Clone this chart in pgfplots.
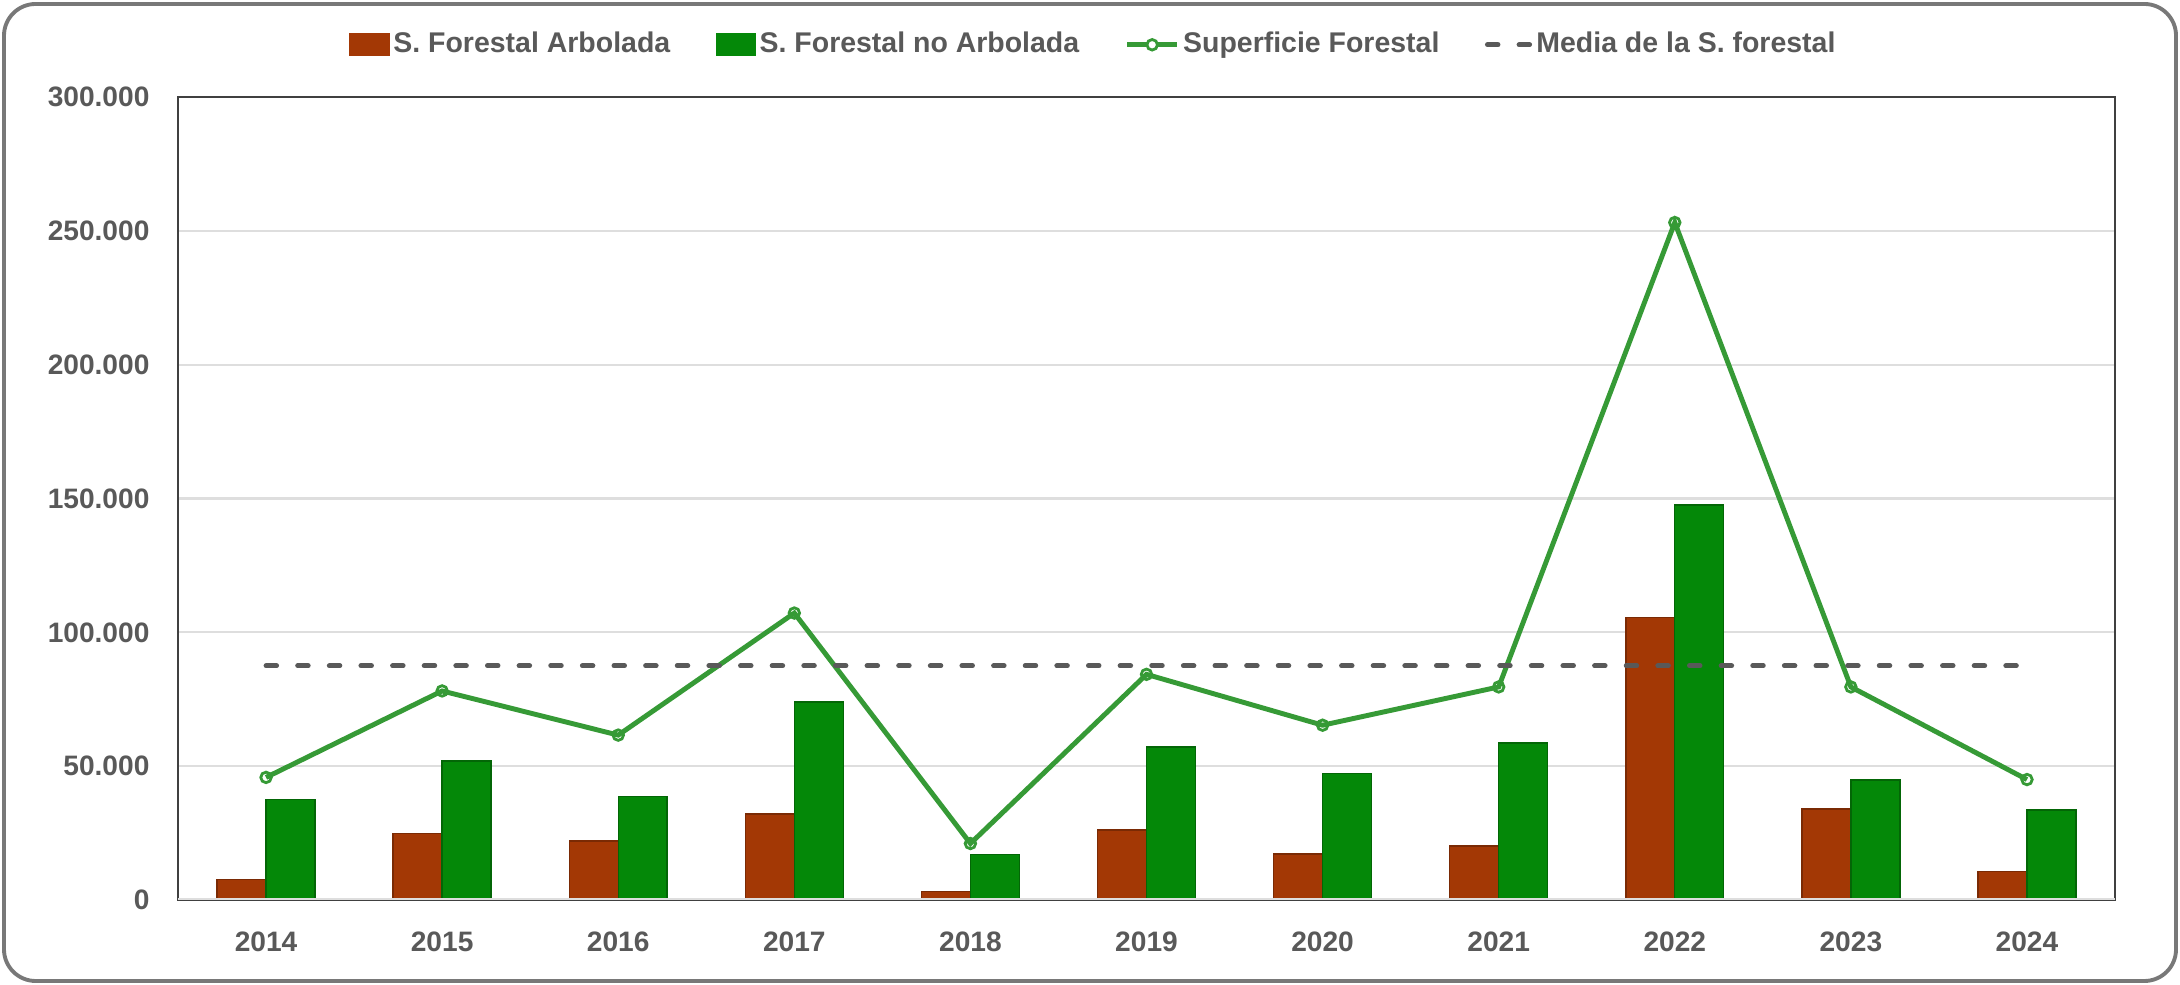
\documentclass[border=0pt]{standalone}
\usepackage{fontspec}
\setmainfont{Liberation Sans}
\usepackage{pgfplots}
\usepackage{pgfplotstable}
\pgfplotsset{compat=1.18}
\definecolor{barred}{RGB}{163,56,5}
\definecolor{bargreen}{RGB}{4,136,8}
\definecolor{linegreen}{RGB}{54,154,54}
\definecolor{txtgray}{RGB}{89,89,89}
\definecolor{gridgray}{RGB}{222,222,222}
\definecolor{framegray}{RGB}{120,120,120}

\pgfplotstableread{
x arb noarb total
0 7700 37600 45800
1 24900 52000 78100
2 22000 38600 61600
3 32100 74000 107200
4 3100 17000 21100
5 26100 57200 84300
6 17200 47300 65300
7 20100 58700 79600
8 105500 147600 253100
9 34000 44800 79600
10 10600 33600 45000
}\data

\begin{document}
\begin{tikzpicture}
\useasboundingbox (-1.78cm,-0.85cm) rectangle (20.02cm,9.0cm);
\draw[framegray, line width=1.1pt, rounded corners=9pt] (-1.74cm,-0.81cm) rectangle (19.98cm,8.96cm);
\begin{axis}[
  at={(0,0)}, anchor=south west,
  scale only axis, width=19.37cm, height=8.03cm,
  xmin=-0.5, xmax=10.5, ymin=0, ymax=300000,
  ytick={0,50000,100000,150000,200000,250000,300000},
  xtick={0,1,2,3,4,5,6,7,8,9,10},
  xticklabels={2014,2015,2016,2017,2018,2019,2020,2021,2022,2023,2024},
  scaled y ticks=false,
  /pgf/number format/.cd, fixed, precision=0, 1000 sep={.}, assume math mode=true,
  /pgfplots/.cd,
  major tick length=0pt,
  ymajorgrids, grid style={gridgray, line width=0.6pt},
  axis line style={draw=black!75, line width=0.5pt},
  yticklabel style={font=\bfseries\fontsize{8}{9}\selectfont, text=txtgray, xshift=-4.6pt},
  xticklabel style={font=\bfseries\fontsize{8}{9}\selectfont, text=txtgray, yshift=-5.5pt},
  legend columns=4,
  legend style={draw=none, fill=none, at={(0.473,1.065)}, anchor=center,
    font=\bfseries\fontsize{8.1}{9.5}\selectfont, text=txtgray,
    nodes={inner sep=1pt},
    /tikz/every even column/.append style={column sep=0.42cm}},
]
\addplot[ybar, bar width=0.278, bar shift=-0.139, fill=barred, draw=barred!75!black, line width=0.4pt,
  legend image code/.code={\fill[barred] (0cm,-0.11cm) rectangle (0.39cm,0.11cm);}]
  table[x=x, y=arb]{\data};
\addlegendentry{S. Forestal Arbolada}
\addplot[ybar, bar width=0.278, bar shift=0.139, fill=bargreen, draw=bargreen!75!black, line width=0.4pt,
  legend image code/.code={\fill[bargreen] (0cm,-0.11cm) rectangle (0.39cm,0.11cm);}]
  table[x=x, y=noarb]{\data};
\addlegendentry{S. Forestal no Arbolada}
\addplot[linegreen, line width=1.4pt, mark=o, mark size=1.5pt, mark options={line width=0.8pt, fill=white},
  legend image code/.code={\draw[linegreen, line width=1.4pt] (0cm,0cm) -- (0.5cm,0cm); \draw[linegreen, line width=0.8pt, fill=white] (0.25cm,0cm) circle (1.5pt);}]
  table[x=x, y=total]{\data};
\addlegendentry{Superficie Forestal}
\addplot[txtgray, line width=1.4pt, line cap=round, dash pattern=on 3pt off 6pt,
  legend image code/.code={\draw[txtgray, line width=1.4pt, line cap=round, dash pattern=on 3pt off 6pt] (0.05cm,0cm) -- (0.48cm,0cm);}]
  coordinates {(0,87500) (10,87500)};
\addlegendentry{Media de la S. forestal}
\draw[gridgray, line width=1pt] (rel axis cs:0,0) -- (rel axis cs:1,0);
\end{axis}
\end{tikzpicture}
\end{document}
